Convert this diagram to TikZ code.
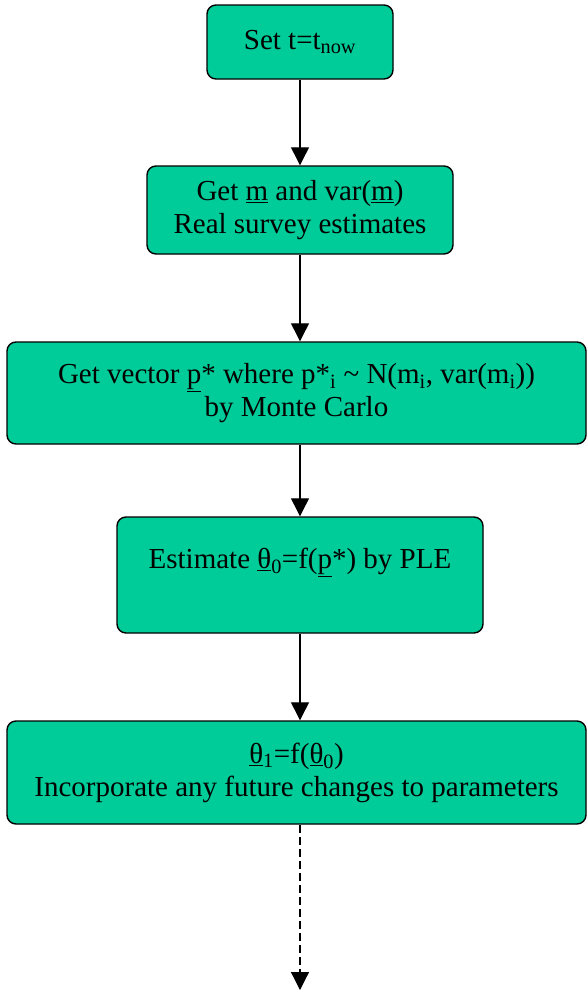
\documentclass[tikz,border=0pt]{standalone}
\usepackage{fontspec}
\setmainfont{Liberation Serif}
\usetikzlibrary{arrows.meta}
\definecolor{boxgreen}{RGB}{0,204,153}
\begin{document}
\begin{tikzpicture}[x=1pt,y=-1pt,
  stepbox/.style={draw=black, line width=1.4pt, fill=boxgreen, rounded corners=9pt,
    align=center, inner sep=0pt,
    font=\fontsize{29}{33}\selectfont},
  flow/.style={line width=1.2pt, -{Triangle[width=18pt,length=18pt]}}]
  \useasboundingbox (0,0) rectangle (587,991);

  \node[stepbox, minimum width=186pt, minimum height=74pt] (set) at (300,42)
    {Set t=t\textsubscript{now}};
  \node[stepbox, minimum width=306pt, minimum height=88pt] (get) at (300,210)
    {Get \underline{m} and var(\underline{m})\\Real survey estimates};
  \node[stepbox, minimum width=579pt, minimum height=102pt] (mc) at (296.5,393)
    {Get vector \underline{p}* where p*\textsubscript{i} \char`~\ N(m\textsubscript{i}, var(m\textsubscript{i}))\\by Monte Carlo};
  \node[stepbox, minimum width=366pt, minimum height=116pt] (ple) at (300,575)
    {Estimate \underline{θ}\textsubscript{0}=f(\underline{p}*) by PLE\\\mbox{}};
  \node[stepbox, minimum width=579pt, minimum height=103pt] (fut) at (296.5,772.5)
    {\underline{θ}\textsubscript{1}=f(\underline{θ}\textsubscript{0})\\Incorporate any future changes to parameters};

  \coordinate (next) at (300,990);

  \draw[flow] (set.south) -- (get.north);
  \draw[flow] (get.south) -- (get.south |- mc.north);
  \draw[flow] (get.south |- mc.south) -- (ple.north);
  \draw[flow] (ple.south) -- (ple.south |- fut.north);
  \draw[flow, dash pattern=on 8pt off 4pt] (next |- fut.south) -- (next);
\end{tikzpicture}
\end{document}
